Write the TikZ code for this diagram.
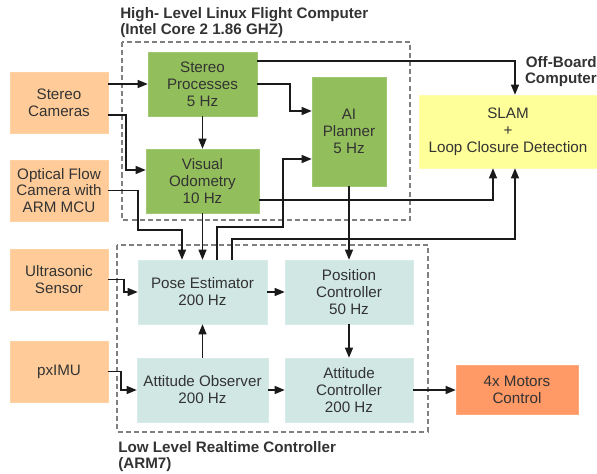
\documentclass[tikz,border=0pt]{standalone}
\usepackage{fontspec}
\setmainfont{Liberation Sans}
\usepackage{tikz}
\usetikzlibrary{arrows.meta,calc}
\definecolor{sensorfill}{HTML}{FFCC99}
\definecolor{highfill}{HTML}{93BE5C}
\definecolor{lowfill}{HTML}{D0E7E4}
\definecolor{slamfill}{HTML}{FFFF99}
\definecolor{motorfill}{HTML}{FF9966}
\definecolor{textgray}{HTML}{333333}
\definecolor{framegray}{HTML}{808080}
\definecolor{linedark}{HTML}{1A1A1A}
\tikzset{
  unit/.style={rectangle,align=center,inner sep=1pt,text=textgray,font=\fontsize{10.8}{12}\selectfont},
  sensor/.style={unit,fill=sensorfill,draw=sensorfill!90!white,minimum width=2.45cm,minimum height=1.525cm},
  hltask/.style={unit,fill=highfill,draw=highfill!85!white,minimum height=1.6cm},
  lltask/.style={unit,fill=lowfill,draw=lowfill!85!white,minimum height=1.6cm},
  slambox/.style={unit,fill=slamfill,draw=slamfill!80!white,minimum width=4.45cm,minimum height=1.825cm},
  motorbox/.style={unit,fill=motorfill,draw=motorfill!85!white,minimum width=3.05cm,minimum height=1.225cm},
  groupframe/.style={draw=framegray,line width=1.7pt,dash pattern=on 3.6pt off 2.2pt},
  grouplabel/.style={inner sep=0pt,text=textgray,font=\fontsize{10.8}{11.8}\selectfont\bfseries},
  arrow/.style={-{Triangle[length=2.5mm,width=2mm]},line width=0.8pt,draw=linedark}
}

\begin{document}
\begin{tikzpicture}[x=0.025cm,y=-0.025cm]
  \useasboundingbox (0,0) rectangle (597,473);
  % dashed computer frames
  \draw[groupframe] (122,42) rectangle (410,220);
  \draw[groupframe] (117,245) rectangle (428,432);
  \node[grouplabel,anchor=north west,align=left] (hllabel) at (120,7) {High- Level Linux Flight Computer\\(Intel Core 2 1.86 GHZ)};
  \node[grouplabel,anchor=north east,align=right] (offlabel) at (597,56) {Off-Board\\Computer};
  \node[grouplabel,anchor=north west,align=left] (lllabel) at (118,441) {Low Level Realtime Controller\\(ARM7)};

  % sensors
  \node[sensor] (cams) at (59,102.5) {Stereo\\Cameras};
  \node[sensor] (flowcam) at (59,190.5) {Optical Flow\\Camera with\\ARM MCU};
  \node[sensor] (sonar) at (59,279.5) {Ultrasonic\\Sensor};
  \node[sensor] (imu) at (59,371.5) {pxIMU};

  % high level
  \node[hltask,minimum width=2.725cm] (stereo) at (202.5,84) {Stereo\\Processes\\5 Hz};
  \node[hltask,minimum width=2.825cm] (vo) at (202.5,181) {Visual\\Odometry\\10 Hz};
  \node[hltask,minimum width=1.85cm,minimum height=2.725cm] (planner) at (349,131.5) {AI\\Planner\\5 Hz};
  \node[slambox] (slam) at (508,131.5) {SLAM\\+\\Loop Closure Detection};

  % low level
  \node[lltask,minimum width=3.225cm] (pose) at (202.5,292) {Pose Estimator\\200 Hz};
  \node[lltask,minimum width=3.2cm] (posctl) at (349,292) {Position\\Controller\\50 Hz};
  \node[lltask,minimum width=3.275cm] (attobs) at (202.5,390) {Attitude Observer\\200 Hz};
  \node[lltask,minimum width=3.2cm] (attctl) at (349,390) {Attitude\\Controller\\200 Hz};
  \node[motorbox] (motors) at (517,390) {4x Motors\\Control};

  \draw[arrow] (cams.east |- 0,84) -- (stereo.west |- 0,84);
  \draw[arrow] (cams.east |- 0,115) -- (126,115) |- (vo.west |- 0,170);
  \draw[arrow] (stereo) -- (vo);
  \draw[arrow] (stereo.east |- 0,61) -| (515,0 |- slam.north);
  \draw[arrow] (stereo.east |- 0,84) -- (290,84) |- (planner.west |- 0,111);
  \draw[arrow] (vo.east |- 0,200) -| (493,0 |- slam.south);
  \draw[arrow] (217,0 |- pose.north) |- (283,227) |- (planner.west |- 0,159);
  \draw[arrow] (232,0 |- pose.north) |- (515,239) -- (515,0 |- slam.south);
  \draw[arrow] (flowcam.east) -| (138,230) -| (182,0 |- pose.north);
  \draw[arrow] (vo) -- (pose);
  \draw[arrow] (planner) -- (posctl);
  \draw[arrow] (sonar.east) -| (124,292) -- (pose.west);
  \draw[arrow] (imu.east) -| (121,390) -- (attobs.west);
  \draw[arrow] (attobs) -- (pose);
  \draw[arrow] (pose) -- (posctl);
  \draw[arrow] (attobs) -- (attctl);
  \draw[arrow] (posctl) -- (attctl);
  \draw[arrow] (attctl) -- (motors);
\end{tikzpicture}
\end{document}
